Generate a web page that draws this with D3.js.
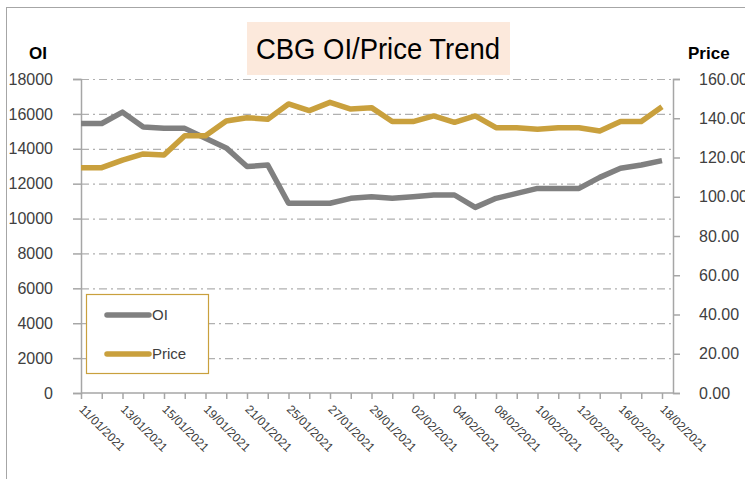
<!DOCTYPE html>
<html>
<head>
<meta charset="utf-8">
<script src="https://cdn.jsdelivr.net/npm/d3@7"></script>
<style>
  body { margin: 0; background: #fff; }
  svg { display: block; font-family: 'Liberation Sans', Arial, sans-serif; }
</style>
</head>
<body>
<div id="app"></div>
<script>
'use strict'
const dates = ['11/01/2021', '12/01/2021', '13/01/2021', '14/01/2021', '15/01/2021',
  '18/01/2021', '19/01/2021', '20/01/2021', '21/01/2021', '22/01/2021',
  '25/01/2021', '26/01/2021', '27/01/2021', '28/01/2021', '29/01/2021',
  '01/02/2021', '02/02/2021', '03/02/2021', '04/02/2021', '05/02/2021',
  '08/02/2021', '09/02/2021', '10/02/2021', '11/02/2021', '12/02/2021',
  '15/02/2021', '16/02/2021', '17/02/2021', '18/02/2021']
const oi = [15450, 15450, 16100, 15250, 15170, 15170, 14600, 14050, 12980, 13070,
  10880, 10880, 10880, 11160, 11250, 11160, 11250, 11350, 11350, 10640,
  11160, 11440, 11730, 11730, 11730, 12360, 12880, 13070, 13320]
const price = [114.8, 114.8, 118.7, 121.8, 121.3, 131.1, 131.1, 138.6, 140.3, 139.5,
  147.3, 143.9, 148.1, 144.7, 145.4, 138.3, 138.3, 141.2, 137.9, 141.2,
  135.2, 135.2, 134.4, 135.2, 135.2, 133.5, 138.3, 138.3, 145.9]
const oiTicks = d3.range(0, 18001, 2000)
const priceTicks = d3.range(0, 161, 20)

const W = 745, H = 479
const plot = { left: 81, right: 673, top: 79, bottom: 393 }
const grey = '#808080', gold = '#c9a03d', axisCol = '#a6a6a6', textCol = '#404040'

const svg = d3.select('#app').append('svg').attr('width', W).attr('height', H)

// outer frame
svg.append('rect').attr('x', 6.5).attr('y', 7.5).attr('width', W).attr('height', H)
  .attr('fill', 'none').attr('stroke', axisCol)

const x = d3.scalePoint().domain(dates).range([plot.left, 662])
const yL = d3.scaleLinear().domain([0, 18000]).range([plot.bottom, plot.top])
const yR = d3.scaleLinear().domain([0, 160]).range([plot.bottom, plot.top])

// grid
svg.append('g').selectAll('line').data(oiTicks.slice(1)).enter().append('line')
  .attr('x1', plot.left).attr('x2', plot.right)
  .attr('y1', d => yL(d) + 0.5).attr('y2', d => yL(d) + 0.5)
  .attr('stroke', '#b0b0b0').attr('stroke-width', 1.2)
  .attr('stroke-dasharray', '8,4,2,4')

// left axis
const axL = svg.append('g').attr('transform', `translate(${plot.left},0)`)
  .call(d3.axisLeft(yL).tickValues(oiTicks).tickSize(8).tickPadding(20).tickFormat(d3.format('d')))
axL.select('.domain').attr('stroke', axisCol).attr('stroke-width', 1.5)
axL.selectAll('.tick line').attr('stroke', axisCol).attr('stroke-width', 1.5)
axL.selectAll('.tick text').attr('fill', textCol).attr('font-size', 16)
  .attr('font-family', 'Liberation Sans, Arial, sans-serif')

// right axis
const axR = svg.append('g').attr('transform', `translate(${plot.right},0)`)
  .call(d3.axisRight(yR).tickValues(priceTicks).tickSize(7).tickPadding(19).tickFormat(d3.format('.2f')))
axR.select('.domain').attr('stroke', axisCol).attr('stroke-width', 1.5)
axR.selectAll('.tick line').attr('stroke', axisCol).attr('stroke-width', 1.5)
axR.selectAll('.tick text').attr('fill', textCol).attr('font-size', 16)
  .attr('font-family', 'Liberation Sans, Arial, sans-serif')

// bottom axis
svg.append('line').attr('x1', plot.left).attr('x2', plot.right)
  .attr('y1', plot.bottom).attr('y2', plot.bottom)
  .attr('stroke', axisCol).attr('stroke-width', 1.5)
const axB = svg.append('g').attr('transform', `translate(0,${plot.bottom})`)
  .call(d3.axisBottom(x).tickSize(6).tickFormat((d, i) => i % 2 === 0 ? d : ''))
axB.select('.domain').remove()
axB.selectAll('.tick line').attr('stroke', axisCol).attr('stroke-width', 1.5)
axB.selectAll('.tick text').attr('fill', textCol).attr('font-size', 12)
  .attr('font-family', 'Liberation Sans, Arial, sans-serif')
  .attr('text-anchor', 'start').attr('dy', 0).attr('y', 0)
  .attr('transform', 'translate(-3,17) rotate(45)')

// lines
const lineOi = d3.line().x((d, i) => x(dates[i])).y(d => yL(d))
const linePrice = d3.line().x((d, i) => x(dates[i])).y(d => yR(d))
svg.append('path').datum(oi).attr('d', lineOi).attr('fill', 'none')
  .attr('stroke', grey).attr('stroke-width', 5.5).attr('stroke-linejoin', 'round')
svg.append('path').datum(price).attr('d', linePrice).attr('fill', 'none')
  .attr('stroke', gold).attr('stroke-width', 5.5).attr('stroke-linejoin', 'round')

// axis titles
svg.append('text').attr('x', 29).attr('y', 59).text('OI')
  .attr('font-size', 17).attr('font-weight', 'bold').attr('fill', '#000')
svg.append('text').attr('x', 688).attr('y', 59).text('Price')
  .attr('font-size', 17).attr('font-weight', 'bold').attr('fill', '#000')

// title
svg.append('rect').attr('x', 247).attr('y', 22).attr('width', 263).attr('height', 53)
  .attr('fill', '#fce9dc')
svg.append('text').attr('x', 256).attr('y', 59).text('CBG OI/Price Trend')
  .attr('font-size', 29).attr('fill', '#000')
  .attr('textLength', 244).attr('lengthAdjust', 'spacingAndGlyphs')

// legend
const legend = svg.append('g')
legend.append('rect').attr('x', 86.5).attr('y', 294.5).attr('width', 122).attr('height', 79)
  .attr('fill', '#fff').attr('stroke', gold).attr('stroke-width', 1.2)
const items = [{ name: 'OI', color: grey, y: 315 }, { name: 'Price', color: gold, y: 354 }]
items.forEach(it => {
  legend.append('line').attr('x1', 107).attr('x2', 149).attr('y1', it.y).attr('y2', it.y)
    .attr('stroke', it.color).attr('stroke-width', 5.5).attr('stroke-linecap', 'round')
  legend.append('text').attr('x', 152).attr('y', it.y + 5).text(it.name)
    .attr('font-size', 15).attr('fill', textCol)
})
</script>
</body>
</html>
